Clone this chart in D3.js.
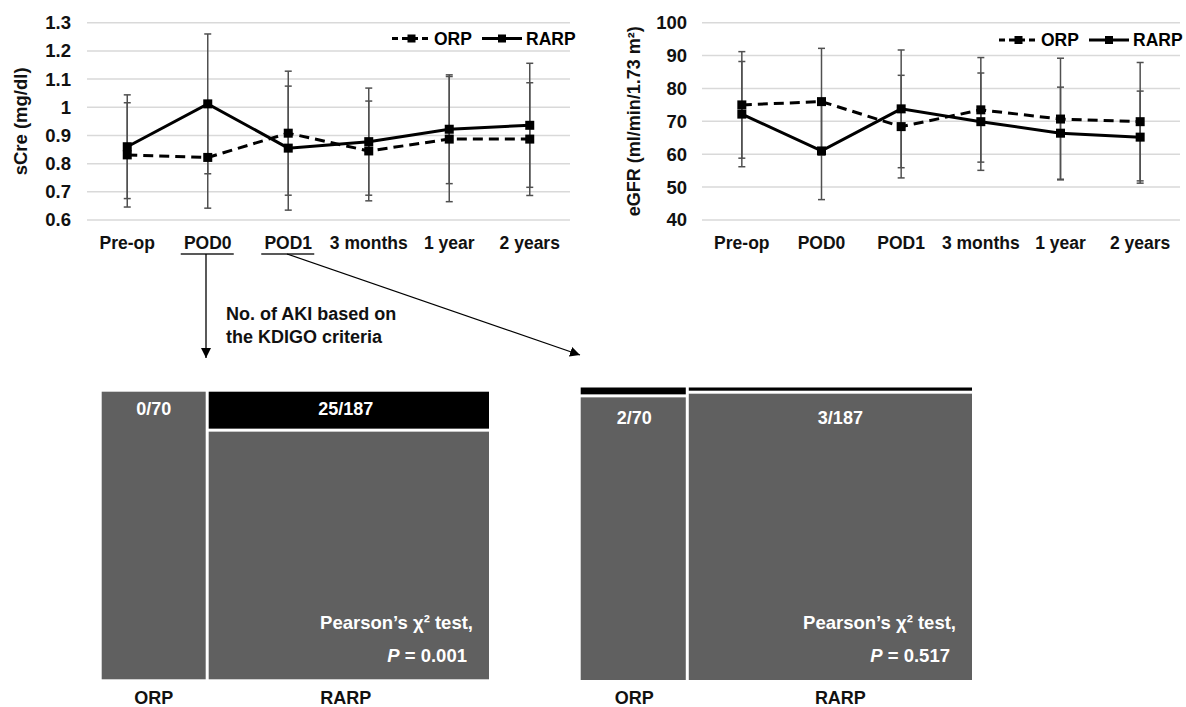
<!DOCTYPE html>
<html><head><meta charset="utf-8">
<script src="https://cdn.jsdelivr.net/npm/d3@7"></script>
<style>
body{margin:0;background:#fff}
text{font-family:"Liberation Sans",Arial,sans-serif;font-weight:bold}
</style>
</head><body><svg id="c" width="1186" height="707"></svg>
<script>
// ---------- data ----------
const timepoints = ["Pre-op", "POD0", "POD1", "3 months", "1 year", "2 years"];
const seriesNames = ["ORP", "RARP"];

const sCreTicks = [0.6, 0.7, 0.8, 0.9, 1, 1.1, 1.2, 1.3];
const sCreORP = [0.831, 0.822, 0.908, 0.845, 0.887, 0.887];
const sCreORPsd = [0.185, 0.18, 0.22, 0.177, 0.222, 0.2];
const sCreRARP = [0.86, 1.012, 0.855, 0.878, 0.922, 0.936];
const sCreRARPsd = [0.184, 0.248, 0.22, 0.19, 0.193, 0.22];

const eGFRTicks = [40, 50, 60, 70, 80, 90, 100];
const eGFRORP = [75, 76, 68.4, 73.5, 70.7, 69.9];
const eGFRORPsd = [16.2, 16.2, 15.6, 15.9, 18.5, 18];
const eGFRRARP = [72.2, 61, 73.8, 69.9, 66.4, 65.2];
const eGFRRARPsd = [16, 14.8, 17.9, 14.8, 14, 14];

const groupN = [70, 187];
const akiPOD0 = [0, 25];
const akiPOD1 = [2, 3];
const pPOD0 = "0.001";
const pPOD1 = "0.517";
const underlined = ["POD0", "POD1"];

// ---------- drawing ----------
const svg = d3.select("#c");
const GRAY = "#606060";

function lineChart(cfg) {
  const g = svg.append("g");
  const x = d3.scaleBand().domain(timepoints).range([cfg.x0, cfg.x1]);
  const y = d3.scaleLinear().domain([cfg.ticks[0], cfg.ticks[cfg.ticks.length - 1]]).range([cfg.yb, cfg.yt]);
  const cx = d => x(d) + x.bandwidth() / 2;

  g.selectAll(".grid").data(cfg.ticks).join("line")
    .attr("x1", cfg.x0).attr("x2", cfg.x1)
    .attr("y1", d => y(d)).attr("y2", d => y(d))
    .attr("stroke", "#d9d9d9").attr("stroke-width", 1.5);
  g.selectAll(".yt").data(cfg.ticks).join("text")
    .attr("x", cfg.tickX).attr("y", d => y(d)).attr("dy", "0.35em")
    .attr("text-anchor", "end").attr("font-size", 18.5).attr("fill", "#111")
    .text(d => String(d));
  g.append("text")
    .attr("transform", `translate(${cfg.labelX},${(cfg.yt + cfg.yb) / 2}) rotate(-90)`)
    .attr("text-anchor", "middle").attr("font-size", cfg.labelSize).attr("fill", "#111")
    .text(cfg.label);
  g.selectAll(".xt").data(timepoints).join("text")
    .attr("x", d => cx(d)).attr("y", cfg.yb + 29)
    .attr("text-anchor", "middle").attr("font-size", 17.5).attr("fill", "#111")
    .text(d => d);
  if (cfg.underline) {
    g.selectAll(".ul").data(underlined).join("line")
      .attr("x1", d => cx(d) - 27).attr("x2", d => cx(d) + 26)
      .attr("y1", cfg.yb + 34).attr("y2", cfg.yb + 34)
      .attr("stroke", "#222").attr("stroke-width", 1.5);
  }

  const series = [
    { name: "ORP", v: cfg.orp, sd: cfg.orpsd, dash: "10,6" },
    { name: "RARP", v: cfg.rarp, sd: cfg.rarpsd, dash: null }
  ];
  series.forEach(s => {
    const eb = g.append("g").attr("stroke", "#505050").attr("stroke-width", 1.5);
    timepoints.forEach((t, i) => {
      const lo = y(s.v[i] - s.sd[i]), hi = y(s.v[i] + s.sd[i]);
      eb.append("line").attr("x1", cx(t)).attr("x2", cx(t)).attr("y1", lo).attr("y2", hi);
      eb.append("line").attr("x1", cx(t) - 3.5).attr("x2", cx(t) + 3.5).attr("y1", lo).attr("y2", lo);
      eb.append("line").attr("x1", cx(t) - 3.5).attr("x2", cx(t) + 3.5).attr("y1", hi).attr("y2", hi);
    });
  });
  const line = d3.line().x((d, i) => cx(timepoints[i])).y(d => y(d));
  series.forEach(s => {
    g.append("path").datum(s.v).attr("d", line).attr("fill", "none")
      .attr("stroke", "#000").attr("stroke-width", 3)
      .attr("stroke-dasharray", s.dash);
    g.selectAll(null).data(s.v).join("rect")
      .attr("x", (d, i) => cx(timepoints[i]) - 4.5).attr("y", d => y(d) - 4.5)
      .attr("width", 9).attr("height", 9).attr("fill", "#000");
  });
  const L = cfg.legend;
  const lg = g.append("g").attr("transform", `translate(${L.x},${L.y})`);
  lg.append("line").attr("x1", 0).attr("x2", 39).attr("y1", 0).attr("y2", 0)
    .attr("stroke", "#000").attr("stroke-width", 3).attr("stroke-dasharray", "6,4");
  lg.append("rect").attr("x", 15.5).attr("y", -4).attr("width", 8).attr("height", 8);
  lg.append("text").attr("x", 42).attr("dy", "0.35em").attr("font-size", 17.5).text(seriesNames[0]);
  lg.append("line").attr("x1", 90).attr("x2", 130).attr("y1", 0).attr("y2", 0)
    .attr("stroke", "#000").attr("stroke-width", 3);
  lg.append("rect").attr("x", 106).attr("y", -4).attr("width", 8).attr("height", 8);
  lg.append("text").attr("x", 134).attr("dy", "0.35em").attr("font-size", 17.5).text(seriesNames[1]);
}

lineChart({
  x0: 87, x1: 570, yt: 22.7, yb: 220, ticks: sCreTicks, tickX: 71, labelX: 27, labelSize: 18.5,
  label: "sCre (mg/dl)", orp: sCreORP, orpsd: sCreORPsd, rarp: sCreRARP, rarpsd: sCreRARPsd,
  underline: true, legend: { x: 392, y: 38.5 }
});
lineChart({
  x0: 702, x1: 1180, yt: 22.7, yb: 220, ticks: eGFRTicks, tickX: 687, labelX: 640, labelSize: 18,
  label: "eGFR (ml/min/1.73 m²)", orp: eGFRORP, orpsd: eGFRORPsd, rarp: eGFRRARP, rarpsd: eGFRRARPsd,
  underline: false, legend: { x: 999, y: 40 }
});

svg.append("defs").append("marker").attr("id", "ah").attr("viewBox", "0 0 10 10")
  .attr("refX", 10).attr("refY", 5).attr("markerWidth", 10).attr("markerHeight", 10)
  .attr("markerUnits", "userSpaceOnUse").attr("orient", "auto")
  .append("path").attr("d", "M0,0 L10,5 L0,10 z").attr("fill", "#000");
svg.append("line").attr("x1", 206).attr("y1", 254).attr("x2", 206).attr("y2", 358)
  .attr("stroke", "#000").attr("stroke-width", 1.3).attr("marker-end", "url(#ah)");
svg.append("line").attr("x1", 287).attr("y1", 254).attr("x2", 580).attr("y2", 355)
  .attr("stroke", "#000").attr("stroke-width", 1.3).attr("marker-end", "url(#ah)");
svg.append("text").attr("x", 226).attr("y", 320).attr("font-size", 18).attr("fill", "#111").text("No. of AKI based on");
svg.append("text").attr("x", 226).attr("y", 343).attr("font-size", 18).attr("fill", "#111").text("the KDIGO criteria");

function mosaic(cfg) {
  const g = svg.append("g");
  const total = d3.sum(groupN);
  const x = d3.scaleLinear().domain([0, total]).range([cfg.x0, cfg.x1]);
  const cum = [0, groupN[0], total];
  const gap = 1.5;
  groupN.forEach((n, i) => {
    const xa = x(cum[i]) + (i > 0 ? gap : 0), xb = x(cum[i + 1]) - (i === 0 ? gap : 0);
    const yh = d3.scaleLinear().domain([0, n]).range([cfg.yt, cfg.yb]);
    const k = cfg.counts[i];
    if (k > 0) {
      g.append("rect").attr("x", xa).attr("y", cfg.yt).attr("width", xb - xa)
        .attr("height", yh(k) - cfg.yt - gap).attr("fill", "#000");
    }
    const gy = k > 0 ? yh(k) + gap : cfg.yt;
    g.append("rect").attr("x", xa).attr("y", gy).attr("width", xb - xa)
      .attr("height", cfg.yb - gy).attr("fill", GRAY);
    const mid = (xa + xb) / 2;
    g.append("text").attr("x", mid + cfg.dx[i]).attr("y", cfg.labelY).attr("dy", "0.35em")
      .attr("text-anchor", "middle").attr("font-size", 18).attr("fill", "#fff")
      .text(`${k}/${n}`);
    g.append("text").attr("x", mid + cfg.dx[i]).attr("y", cfg.yb + 18).attr("dy", "0.35em")
      .attr("text-anchor", "middle").attr("font-size", 18).attr("fill", "#111")
      .text(seriesNames[i]);
  });
  const rx = cfg.x1 - 16;
  g.append("text").attr("x", rx).attr("y", cfg.yb - 57).attr("dy", "0.35em")
    .attr("text-anchor", "end").attr("font-size", 18.5).attr("fill", "#fff")
    .text("Pearson’s χ² test,");
  const t = g.append("text").attr("x", rx - 6).attr("y", cfg.yb - 24).attr("dy", "0.35em")
    .attr("text-anchor", "end").attr("font-size", 18.5).attr("fill", "#fff");
  t.append("tspan").attr("font-style", "italic").text("P");
  t.append("tspan").text(" = " + cfg.p);
}

mosaic({ x0: 101.7, x1: 489, yt: 391.7, yb: 679.3, counts: akiPOD0, p: pPOD0, labelY: 409, dx: [0, -3] });
mosaic({ x0: 580.7, x1: 972, yt: 387.5, yb: 680, counts: akiPOD1, p: pPOD1, labelY: 418, dx: [1, 10] });
</script>
</body></html>
